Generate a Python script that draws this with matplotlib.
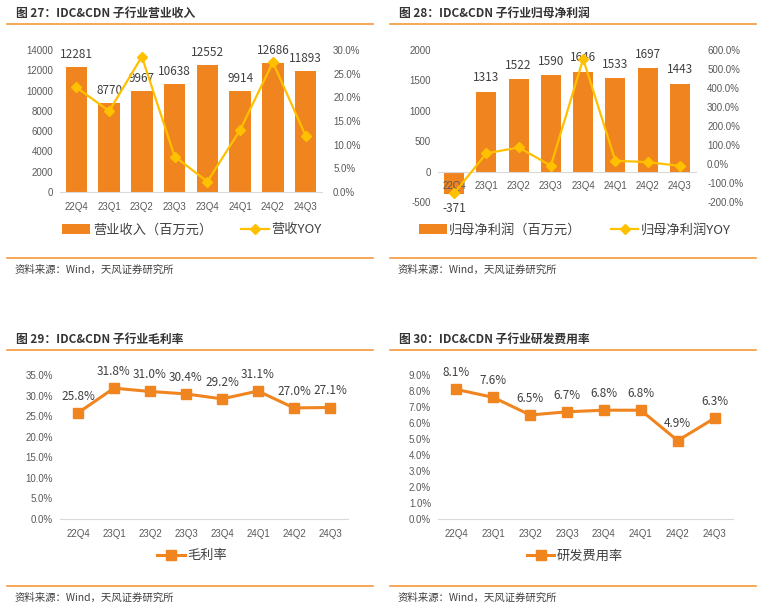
import matplotlib
matplotlib.use('Agg')
import matplotlib.pyplot as plt
from matplotlib.lines import Line2D
from matplotlib.ticker import FuncFormatter

plt.rcParams['font.family'] = ['Noto Sans CJK SC', 'DejaVu Sans']
plt.rcParams['axes.unicode_minus'] = False

# 数据
quarters = ['22Q4', '23Q1', '23Q2', '23Q3', '23Q4', '24Q1', '24Q2', '24Q3']
revenue = [12281, 8770, 9967, 10638, 12552, 9914, 12686, 11893]
revenue_yoy = [22.1, 17.1, 28.6, 7.5, 2.2, 13.1, 27.4, 11.9]
profit = [-371, 1313, 1522, 1590, 1646, 1533, 1697, 1443]
profit_yoy = [-154, 56, 87, -9, 553, 17, 10, -10]
gross_margin = [25.8, 31.8, 31.0, 30.4, 29.2, 31.1, 27.0, 27.1]
rd_rate = [8.1, 7.6, 6.5, 6.7, 6.8, 6.8, 4.9, 6.3]

titles = ['图 27：IDC&CDN 子行业营业收入', '图 28：IDC&CDN 子行业归母净利润',
          '图 29：IDC&CDN 子行业毛利率', '图 30：IDC&CDN 子行业研发费用率']
source = '资料来源：Wind，天风证券研究所'

ORANGE = '#F0841F'
YELLOW = '#FFC000'
LINE_OR = '#F39A3A'
TICK_C = '#595959'
LABEL_C = '#404040'

W, H = 762, 609
fig = plt.figure(figsize=(W / 100, H / 100), dpi=100)


def rect(x0, y0, x1, y1):
    return [x0 / W, 1 - y1 / H, (x1 - x0) / W, (y1 - y0) / H]


def hline(x0, x1, y):
    fig.add_artist(Line2D([x0 / W, x1 / W], [1 - y / H, 1 - y / H],
                          color=LINE_OR, lw=1.2))


def ftext(x, y, s, **kw):
    fig.text(x / W, 1 - y / H, s, va='center', **kw)


def frame(ax):
    for s in ['top', 'left', 'right']:
        ax.spines[s].set_visible(False)
    ax.spines['bottom'].set_color('#D9D9D9')
    ax.tick_params(axis='both', length=0, colors=TICK_C, pad=5,
                   labelsize=7, labelfontfamily='Liberation Sans')
    ax.tick_params(axis='x', pad=7)


def legend(handles, labels, cx, cy, **kw):
    fig.legend(handles, labels, loc='center', bbox_to_anchor=(cx / W, 1 - cy / H),
               frameon=False, fontsize=9.5, handlelength=2.1, handleheight=0.75,
               handletextpad=0.2, labelcolor=LABEL_C, **kw)


# 标题与来源
heads = [(16, 13, 7, 373, 258), (399, 13, 390, 756, 258),
         (16, 339, 7, 373, 586), (399, 339, 390, 756, 586)]
for idx, (tx, ty, lx0, lx1, sy) in enumerate(heads):
    ftext(tx, ty, titles[idx], fontsize=8.5, fontweight='bold', color='#333333')
    hline(lx0, lx1, ty + 11)
    hline(lx0, lx1, sy)
    ftext(tx - 1, sy + 12, source, fontsize=7.5, color='#404040')

x = range(len(quarters))
pct = FuncFormatter(lambda v, p: f'{v:.1f}%')

# 图27
ax1 = fig.add_axes(rect(60, 50, 322, 192))
ax1.bar(x, revenue, width=0.65, color=ORANGE, label='营业收入（百万元）', zorder=1)
ax1.set_ylim(0, 14000)
ax1.set_yticks(range(0, 14001, 2000))
ax1.set_xlim(-0.5, 7.5)
ax1.set_xticks(list(x))
ax1.set_xticklabels(quarters)
frame(ax1)
for i, v in enumerate(revenue):
    ax1.annotate(str(v), (i, v), xytext=(0, 9), textcoords='offset points',
                 ha='center', va='center', fontsize=8.5, color=LABEL_C)
ax1b = ax1.twinx()
ax1b.plot(x, revenue_yoy, color=YELLOW, lw=1.6, marker='D', ms=5, label='营收YOY', zorder=3)
ax1b.set_ylim(0, 30)
ax1b.set_yticks(range(0, 31, 5))
ax1b.yaxis.set_major_formatter(pct)
frame(ax1b)
ax1b.tick_params(axis='y', pad=8)
ax1b.spines['bottom'].set_visible(False)
h1, l1 = ax1.get_legend_handles_labels()
h2, l2 = ax1b.get_legend_handles_labels()
legend(h1 + h2, l1 + l2, 192, 230, ncol=2, columnspacing=2.2)

# 图28
ax2 = fig.add_axes(rect(438, 50, 696, 202))
ax2.bar(x, profit, width=0.62, color=ORANGE, label='归母净利润（百万元）', zorder=1)
ax2.set_ylim(-500, 2000)
ax2.set_yticks(range(-500, 2001, 500))
ax2.set_xlim(-0.5, 7.5)
ax2.set_xticks(list(x))
ax2.set_xticklabels(quarters)
ax2.set_axisbelow(False)
ax2.spines['bottom'].set_position(('data', 0))
frame(ax2)
for i, v in enumerate(profit):
    off = 10 if v >= 0 else -10
    ax2.annotate(str(v), (i, v), xytext=(0, off), textcoords='offset points',
                 ha='center', va='center', fontsize=8.5, color=LABEL_C)
ax2b = ax2.twinx()
ax2b.plot(x, profit_yoy, color=YELLOW, lw=1.6, marker='D', ms=5, label='归母净利润YOY', zorder=3)
ax2b.set_ylim(-200, 600)
ax2b.set_yticks(range(-200, 601, 100))
ax2b.yaxis.set_major_formatter(pct)
frame(ax2b)
ax2b.tick_params(axis='y', pad=8)
ax2b.spines['bottom'].set_visible(False)
h1, l1 = ax2.get_legend_handles_labels()
h2, l2 = ax2b.get_legend_handles_labels()
legend(h1 + h2, l1 + l2, 575, 230, ncol=2, columnspacing=2.2)


# 图29 / 图30
def line_panel(box, data, ymax, step, name, lx):
    ax = fig.add_axes(rect(*box))
    ax.plot(x, data, color=ORANGE, lw=2.2, marker='s', ms=6.5, label=name)
    ax.set_ylim(0, ymax)
    ax.set_yticks([i * step for i in range(int(round(ymax / step)) + 1)])
    ax.yaxis.set_major_formatter(pct)
    ax.set_xlim(-0.5, 7.5)
    ax.set_xticks(list(x))
    ax.set_xticklabels(quarters)
    frame(ax)
    for i, v in enumerate(data):
        ax.annotate(f'{v:.1f}%', (i, v), xytext=(0, 12), textcoords='offset points',
                    ha='center', va='center', fontsize=8.5, color=LABEL_C)
    legend(*ax.get_legend_handles_labels(), lx, 556)
    return ax


line_panel((60, 375, 348, 519), gross_margin, 35, 5, '毛利率', 192)
line_panel((438, 375, 733, 519), rd_rate, 9, 1, '研发费用率', 575)

fig.savefig('out.png', dpi=100)
